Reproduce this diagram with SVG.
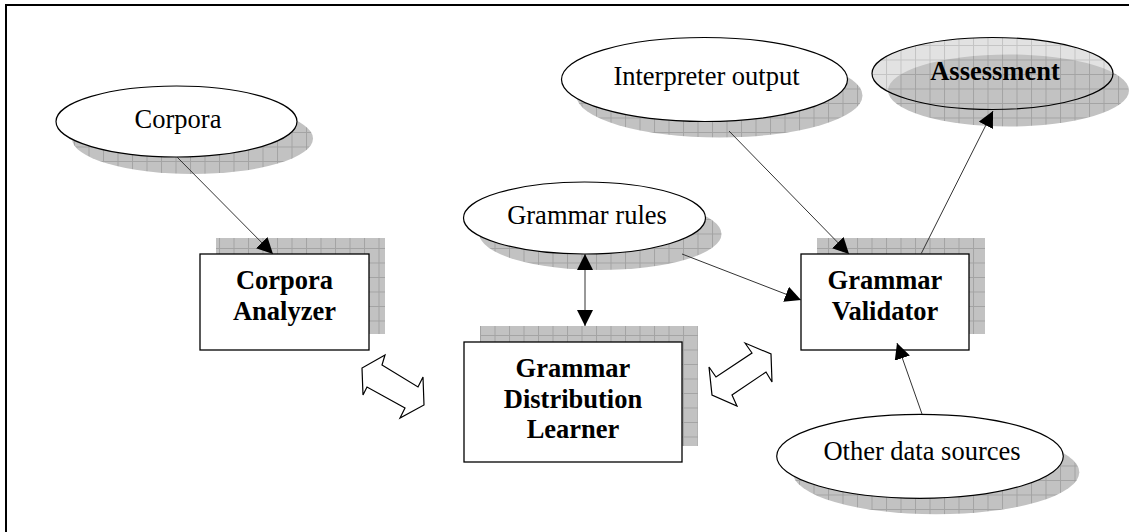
<svg xmlns="http://www.w3.org/2000/svg" width="1129" height="532" viewBox="0 0 1129 532">
  <defs>
    <style>
      .label { font-family: "Liberation Serif", "Times New Roman", serif; font-size: 26.5px; fill: #000; text-anchor: middle; }
      .bold { font-weight: bold; }
      .oval { fill: #fff; stroke: #000; stroke-width: 1.2; }
      .box { fill: #fff; stroke: #000; stroke-width: 1.3; }
      .shadow { fill: url(#grid); }
      .link { stroke: #333; stroke-width: 1; fill: none; }
      .block { fill: #fff; stroke: #000; stroke-width: 1.2; stroke-linejoin: miter; }
    </style>
    <!-- gray grid texture used by all drop shadows -->
    <pattern id="grid" patternUnits="userSpaceOnUse" x="1.5" y="1.5" width="14.5" height="14.5">
      <rect width="14.5" height="14.5" fill="#c2c2c2"/>
      <path d="M0,0.5 H14.5 M0.5,0 V14.5" stroke="#a3a3a3" stroke-width="1"/>
    </pattern>
    <!-- lighter grid for the highlighted node -->
    <pattern id="gridLight" patternUnits="userSpaceOnUse" x="1.5" y="1.5" width="14.5" height="14.5">
      <rect width="14.5" height="14.5" fill="#e2e2e2"/>
      <path d="M0,0.5 H14.5 M0.5,0 V14.5" stroke="#c4c4c4" stroke-width="1"/>
    </pattern>
    <marker id="head" markerUnits="userSpaceOnUse" markerWidth="17" markerHeight="16" refX="16" refY="8" orient="auto-start-reverse" viewBox="0 0 17 16">
      <path d="M0,0 L16,8 L0,16 Z" fill="#000"/>
    </marker>
  </defs>

  <!-- frame -->
  <rect x="6" y="5" width="1200" height="600" fill="#fff" stroke="#000" stroke-width="2"/>

  <!-- data sources -->
  <g id="corpora">
    <ellipse class="shadow" cx="192.5" cy="138.5" rx="120.5" ry="35.5"/>
    <ellipse class="oval" cx="176.5" cy="121.5" rx="120.5" ry="35.5"/>
    <text class="label" x="178" y="128">Corpora</text>
  </g>

  <g id="interpreter-output">
    <ellipse class="shadow" cx="719.5" cy="95.5" rx="143" ry="42"/>
    <ellipse class="oval" cx="704.5" cy="79.5" rx="143" ry="42"/>
    <text class="label" x="706.5" y="85">Interpreter output</text>
  </g>

  <g id="grammar-rules">
    <ellipse class="shadow" cx="600.5" cy="234" rx="121" ry="36"/>
    <ellipse class="oval" cx="584.5" cy="218" rx="121" ry="36"/>
    <text class="label" x="587" y="224">Grammar rules</text>
  </g>

  <g id="assessment">
    <ellipse cx="992.5" cy="73.5" rx="120.5" ry="36" fill="url(#gridLight)"/>
    <ellipse class="shadow" cx="1008.5" cy="90.5" rx="120.5" ry="36"/>
    <ellipse cx="992.5" cy="73.5" rx="120.5" ry="36" fill="none" stroke="#000" stroke-width="1.2"/>
    <text class="label bold" x="995" y="80">Assessment</text>
  </g>

  <g id="other-data-sources">
    <ellipse class="shadow" cx="936" cy="472.3" rx="143.3" ry="42"/>
    <ellipse class="oval" cx="920" cy="456.3" rx="143.3" ry="42"/>
    <text class="label" x="922" y="460">Other data sources</text>
  </g>

  <!-- processing components -->
  <g id="corpora-analyzer">
    <rect class="shadow" x="216" y="238" width="169" height="96"/>
    <rect class="box" x="200" y="254" width="169" height="96"/>
    <text class="label bold" x="284.5" y="289">Corpora</text>
    <text class="label bold" x="284.5" y="320">Analyzer</text>
  </g>

  <g id="grammar-distribution-learner">
    <rect class="shadow" x="480" y="326" width="218" height="120"/>
    <rect class="box" x="464" y="342" width="218" height="120"/>
    <text class="label bold" x="573" y="377">Grammar</text>
    <text class="label bold" x="573" y="408">Distribution</text>
    <text class="label bold" x="573" y="438">Learner</text>
  </g>

  <g id="grammar-validator">
    <rect class="shadow" x="817" y="238" width="168" height="96"/>
    <rect class="box" x="801" y="254" width="168" height="96"/>
    <text class="label bold" x="885" y="289">Grammar</text>
    <text class="label bold" x="885" y="320">Validator</text>
  </g>

  <!-- connectors -->
  <g id="connectors">
    <line class="link" x1="177" y1="157" x2="273" y2="254" marker-end="url(#head)"/>
    <line class="link" x1="729" y1="131" x2="849" y2="254" marker-end="url(#head)"/>
    <line class="link" x1="921" y1="254" x2="993" y2="111" marker-end="url(#head)"/>
    <line class="link" x1="682" y1="254" x2="801" y2="300" marker-end="url(#head)"/>
    <line class="link" x1="922" y1="414" x2="897" y2="343" marker-end="url(#head)"/>
    <line class="link" x1="585" y1="254" x2="585" y2="326" marker-start="url(#head)" marker-end="url(#head)"/>
    <!-- two-way block arrows -->
    <polygon class="block" points="385,355 362,368 363,395 367,387 405,408 400,418 424,405 423,377 418,387 382,365"/>
    <polygon class="block" points="745,343 752,353 716,377 709,367 712,395 737,406 732,395 766,372 772,382 771,354"/>
  </g>
</svg>
